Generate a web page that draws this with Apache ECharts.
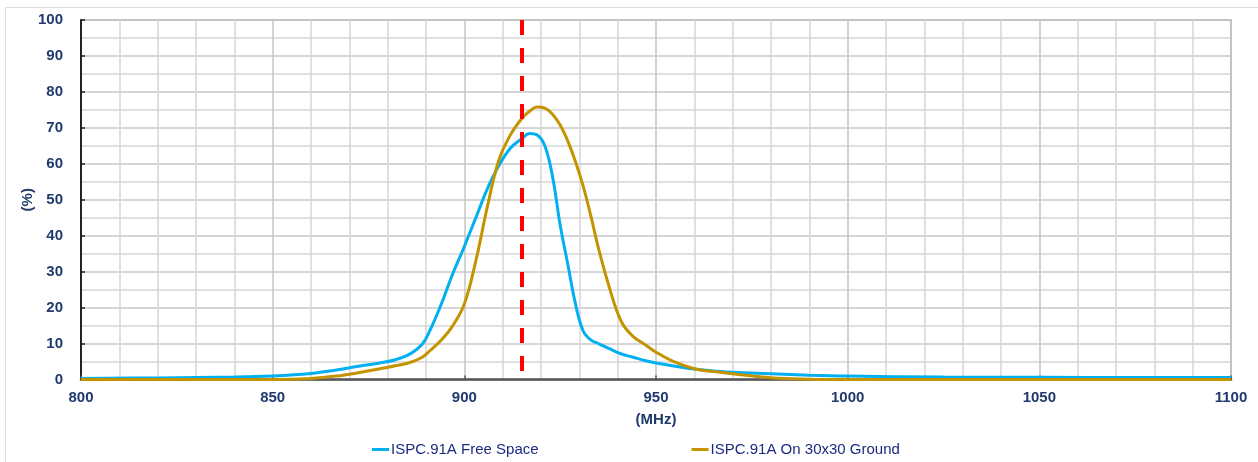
<!DOCTYPE html>
<html>
<head>
<meta charset="utf-8">
<title>ISPC.91A Efficiency</title>
<script src="https://cdn.jsdelivr.net/npm/echarts@6/dist/echarts.min.js"></script>
<style>
  html, body { margin: 0; padding: 0; background: #ffffff; overflow: hidden; }
  #frame { position: absolute; left: 5px; top: 7px; width: 1270px; height: 480px; border: 1px solid #dcdce8; box-sizing: border-box; }
  #chart { position: absolute; left: 0; top: 0; width: 1258px; height: 462px; }
</style>
</head>
<body>
<div id="frame"></div>
<div id="chart"></div>
<script>
// Frequency samples (MHz)
const freqMHz = [800, 820, 840, 850, 860, 867, 872, 878, 882, 886, 889, 891, 894, 897, 900, 903, 906, 909, 912, 915,
  917, 919, 921, 923, 925, 927, 929, 931, 933, 935, 938, 941, 944, 947, 950, 955, 960, 965, 970, 980, 990, 1000,
  1025, 1050, 1075, 1100];

// Efficiency (%) — antenna in free space
const freeSpacePct = [0.3, 0.45, 0.7, 1.0, 1.7, 2.7, 3.6, 4.6, 5.5, 7.2, 9.8, 13.6, 21, 29.5, 37, 45, 53, 59.5, 64.3, 67,
  68.4, 68.0, 65.0, 56.5, 43, 32, 21, 13.5, 11, 10, 8.5, 7.1, 6.2, 5.3, 4.6, 3.7, 2.9, 2.4, 2.0, 1.6, 1.2, 0.95,
  0.7, 0.6, 0.55, 0.55];

// Efficiency (%) — antenna on a 30x30 ground plane
const groundPct = [0, 0, 0, 0, 0.3, 1.0, 1.8, 3.0, 3.8, 4.8, 6.2, 8, 11, 15, 21, 33, 48, 61, 68, 72.6,
  74.6, 75.8, 75.5, 73.8, 70.8, 66.3, 60.6, 53.8, 45.5, 36.5, 25, 16, 12, 9.8, 7.6, 4.8, 3.0, 2.2, 1.6, 0.5, 0.1, 0,
  0, 0, 0, 0];

const seriesNames = ['ISPC.91A Free Space', 'ISPC.91A On 30x30 Ground'];
const centerFreq = 915;

const pairs = (xs, ys) => xs.map((x, i) => [x, ys[i]]);

const labelColor = '#1f3a6e';
const fontFamily = 'Liberation Sans, Arial, sans-serif';
const chart = echarts.init(document.getElementById('chart'), null, { renderer: 'canvas' });

chart.setOption({
  animation: false,
  backgroundColor: 'transparent',
  grid: {
    left: 81, right: 27, top: 20, bottom: 82.5,
    show: true, borderColor: '#a3a3a3', borderWidth: 1.5, backgroundColor: 'transparent'
  },
  legend: {
    left: 367, top: 437,
    itemGap: 153, itemWidth: 17, itemHeight: 3,
    icon: 'rect',
    textStyle: { color: '#1c2a80', fontFamily: fontFamily, fontSize: 15, padding: [0, 0, 0, -3] },
    data: seriesNames
  },
  xAxis: {
    type: 'value', min: 800, max: 1100, interval: 50,
    name: '(MHz)', nameLocation: 'middle', nameGap: 33, nameMoveOverlap: false,
    nameTextStyle: { color: labelColor, fontWeight: 'bold', fontSize: 15, fontFamily: fontFamily },
    axisLine: { show: true, onZero: false, lineStyle: { color: '#555555', width: 2.5 } },
    axisTick: { show: true, inside: true, length: 4, lineStyle: { color: '#555555', width: 1.5 } },
    axisLabel: {
      color: labelColor, fontWeight: 'bold', fontSize: 15, margin: 11, fontFamily: fontFamily,
      formatter: (v) => String(v)
    },
    splitLine: { show: true, lineStyle: { color: '#c4c4c4', width: 1.5 } },
    minorTick: { show: false, splitNumber: 5 },
    minorSplitLine: { show: true, lineStyle: { color: '#d6d6d6', width: 1.5 } }
  },
  yAxis: {
    type: 'value', min: 0, max: 100, interval: 10,
    name: '(%)', nameLocation: 'middle', nameGap: 46, nameRotate: 90, nameMoveOverlap: false,
    nameTextStyle: { color: labelColor, fontWeight: 'bold', fontSize: 15, fontFamily: fontFamily },
    axisLine: { show: true, lineStyle: { color: '#222222', width: 2 } },
    axisTick: { show: true, inside: true, length: 4, lineStyle: { color: '#222222', width: 1.5 } },
    axisLabel: { color: labelColor, fontWeight: 'bold', fontSize: 15, margin: 18, fontFamily: fontFamily },
    splitLine: { show: true, lineStyle: { color: '#c8c8c8', width: 1.5 } },
    minorTick: { show: false, splitNumber: 2 },
    minorSplitLine: { show: true, lineStyle: { color: '#d6d6d6', width: 1.5 } }
  },
  series: [
    {
      name: seriesNames[0], type: 'line', data: pairs(freqMHz, freeSpacePct),
      smooth: 0.4, symbol: 'none', z: 3,
      lineStyle: { color: '#00b0f0', width: 3 }, itemStyle: { color: '#00b0f0' }
    },
    {
      name: seriesNames[1], type: 'line', data: pairs(freqMHz, groundPct),
      smooth: 0.4, symbol: 'none', z: 3,
      lineStyle: { color: '#c49400', width: 3 }, itemStyle: { color: '#c49400' },
      markLine: {
        silent: true, symbol: 'none', z: 5,
        label: { show: false },
        lineStyle: { color: '#ff0000', width: 4, type: [15, 13] },
        // dashed marker at the design frequency, drawn top to bottom
        data: [[{ coord: [centerFreq, 100] }, { coord: [centerFreq, 0] }]]
      }
    }
  ]
});
</script>
</body>
</html>
